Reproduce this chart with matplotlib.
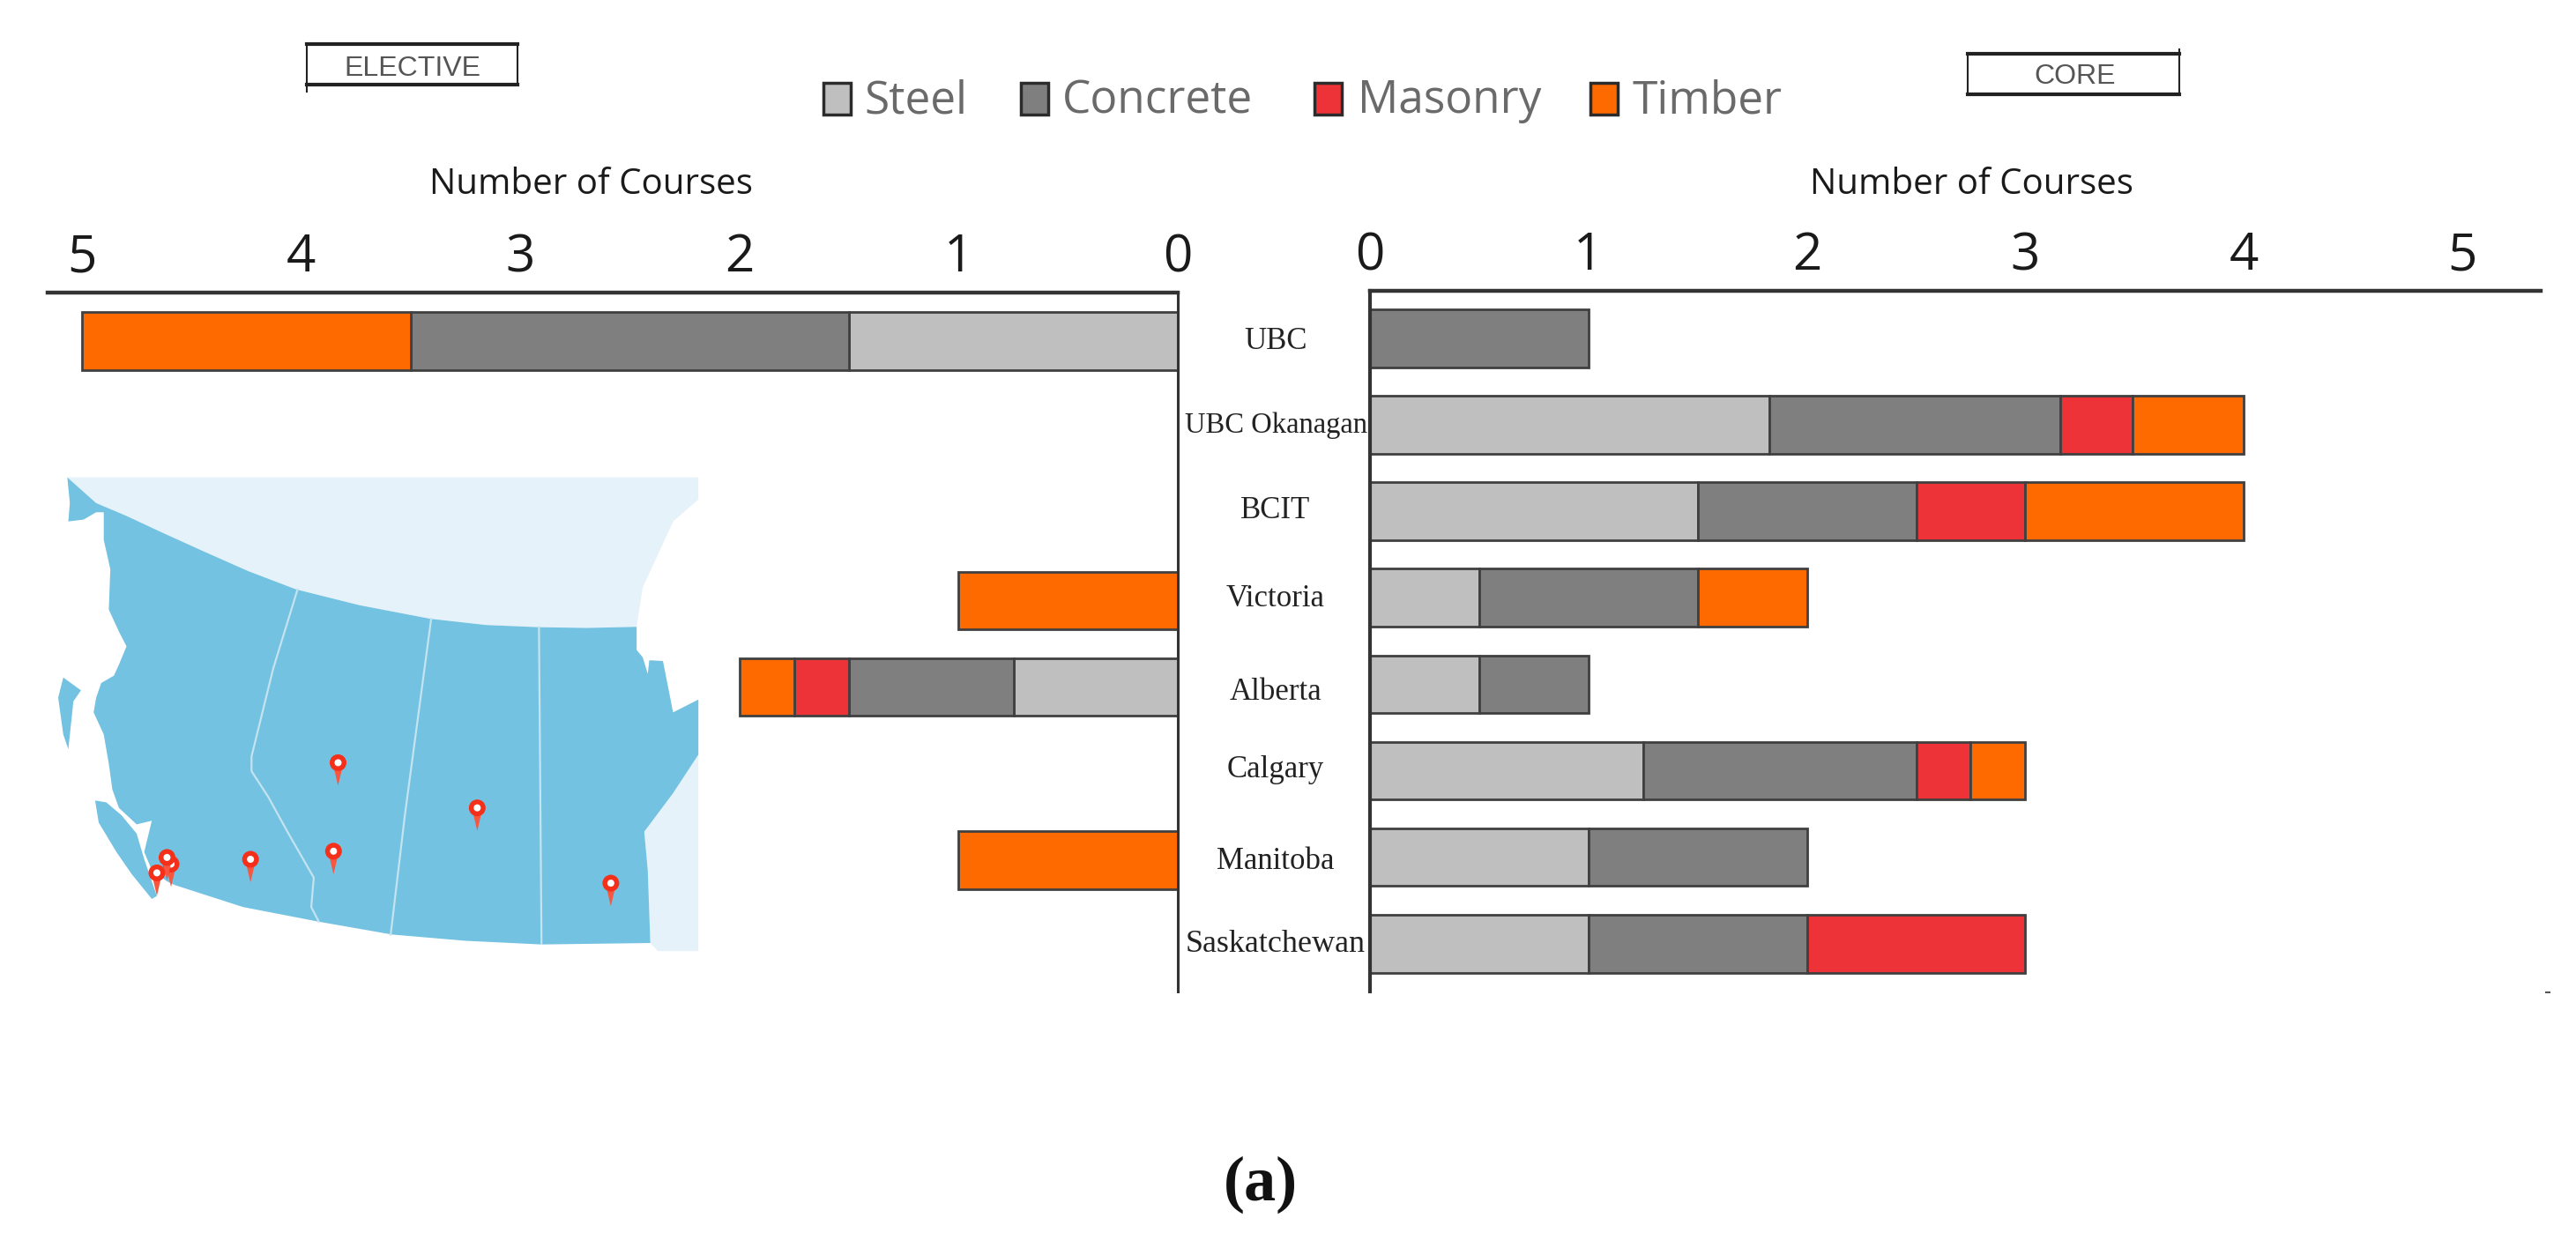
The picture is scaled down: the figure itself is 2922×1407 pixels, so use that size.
import matplotlib
matplotlib.use('Agg')
import matplotlib.pyplot as plt
import numpy as np
from matplotlib.patches import Polygon, Circle, Rectangle

W, H = 2922, 1407

# Course counts per university
universities = ['UBC', 'UBC Okanagan', 'BCIT', 'Victoria', 'Alberta', 'Calgary', 'Manitoba', 'Saskatchewan']
materials = ['Steel', 'Concrete', 'Masonry', 'Timber']

elective_steel = [1.5, 0, 0, 0, 0.75, 0, 0, 0]
elective_concrete = [2, 0, 0, 0, 0.75, 0, 0, 0]
elective_masonry = [0, 0, 0, 0, 0.25, 0, 0, 0]
elective_timber = [1.5, 0, 0, 1, 0.25, 0, 1, 0]

core_steel = [0, 1.83, 1.5, 0.5, 0.5, 1.25, 1, 1]
core_concrete = [1, 1.33, 1, 1, 0.5, 1.25, 1, 1]
core_masonry = [0, 0.33, 0.5, 0, 0, 0.25, 0, 1]
core_timber = [0, 0.51, 1, 0.5, 0, 0.25, 0, 0]

ticks = [0, 1, 2, 3, 4, 5]

colors = ['#BFBFBF', '#7F7F7F', '#EE3338', '#FF6A00']
edge = '#404040'

# Map outlines, measured on a crop of the inset (crop origin at 0,550)
north_curve = [(1258, 387), (1160, 390), (1065, 388), (960, 382), (850, 365), (710, 328), (585, 285), (490, 235),
               (400, 180), (320, 130), (250, 85), (190, 50)]
map_blue = [(133, -20), (138, 50), (135, 100), (165, 95), (190, 75), (205, 75), (205, 150), (218, 230), (215, 340),
            (235, 400), (250, 440), (235, 490), (225, 520), (200, 540), (190, 580), (185, 620), (205, 680), (215, 760),
            (222, 830), (235, 880), (270, 925), (300, 915), (285, 1000), (300, 1050), (330, 1080), (345, 1090),
            (480, 1150), (630, 1190), (775, 1225), (920, 1242), (1070, 1252), (1285, 1248), (1280, 1050), (1273, 945),
            (1330, 840), (1380, 735), (1380, 585), (1330, 620), (1310, 480), (1283, 478), (1280, 515), (1270, 470),
            (1258, 450)] + north_curve
map_haida = [(125, 525), (160, 560), (145, 590), (135, 720), (125, 680), (115, 580)]
map_van_island = [(188, 860), (210, 865), (240, 900), (270, 950), (285, 1020), (310, 1120), (300, 1128), (260, 1060),
                  (230, 1000), (195, 920)]
map_north = [(133, -20), (1380, -20), (1380, 40), (1330, 100), (1300, 190), (1270, 280)] + north_curve
map_hudson = [(1273, 945), (1330, 840), (1380, 735), (1380, 1270), (1300, 1270), (1285, 1248), (1280, 1050)]
border_bc_ab = [(588, 285), (540, 500), (497, 740), (497, 780), (530, 850), (570, 950), (620, 1070), (615, 1150), (630, 1190)]
border_ab_sk = [(852, 365), (800, 900), (772, 1225)]
border_sk_mb = [(1065, 388), (1070, 1250)]
pins = [(668, 757), (943, 880), (659, 998), (495, 1020), (338, 1033), (330, 1015), (310, 1057), (1207, 1085)]


def crop_xy(points):
    pts = np.array(points, dtype=float)
    return np.column_stack([pts[:, 0] / 1.742, 550 + pts[:, 1] / 2.4])


def axes_rect(x0, y0, x1, y1):
    return [x0 / W, 1 - y1 / H, (x1 - x0) / W, (y1 - y0) / H]


fig = plt.figure(figsize=(W / 100, H / 100), dpi=100, facecolor='white')

# Background layer in pixel coordinates: map, legend, boxes and loose text
bg = fig.add_axes([0, 0, 1, 1])
bg.set_xlim(0, W)
bg.set_ylim(H, 0)
bg.axis('off')

bg.add_patch(Polygon(crop_xy(map_north), closed=True, fc='#E5F2F9', ec='none'))
bg.add_patch(Polygon(crop_xy(map_hudson), closed=True, fc='#E5F2F9', ec='none'))
for shape in [map_blue, map_haida, map_van_island]:
    bg.add_patch(Polygon(crop_xy(shape), closed=True, fc='#74C2E1', ec='none'))
for line in [border_bc_ab, border_ab_sk, border_sk_mb]:
    xy = crop_xy(line)
    bg.plot(xy[:, 0], xy[:, 1], color='#C4E3F0', lw=1.6)

for px, py in crop_xy(pins):
    bg.add_patch(Polygon([(px - 5, py + 5), (px + 5, py + 5), (px, py + 26)], closed=True, fc='#F7563F', ec='none'))
    bg.add_patch(Circle((px, py), 9.5, fc='#F5301A', ec='none'))
    bg.add_patch(Circle((px, py), 4, fc='white', ec='none'))

# Legend
legend_swatch_x = [934, 1158, 1491, 1804]
legend_text_x = [980, 1205, 1540, 1852]
for name, col, sx, tx in zip(materials, colors, legend_swatch_x, legend_text_x):
    bg.add_patch(Rectangle((sx, 94), 31, 36, fc=col, ec='#2b2b2b', lw=2.5))
    bg.text(tx, 115, name, family='Open Sans', fontsize=37, color='#6a6a6a', va='center', ha='left')

# ELECTIVE and CORE boxes
bg.plot([348, 348], [50, 104], color='#222222', lw=1.5)
bg.plot([587, 587], [50, 96], color='#222222', lw=1.5)
bg.plot([348, 587], [50, 50], color='#222222', lw=3)
bg.plot([348, 587], [96, 96], color='#222222', lw=3)
bg.text(468, 78, 'ELECTIVE', family='Liberation Sans', fontsize=23, color='#555555', ha='center', va='center')

bg.plot([2232, 2232], [61, 107], color='#222222', lw=1.5)
bg.plot([2472, 2472], [56, 107], color='#222222', lw=1.5)
bg.plot([2232, 2472], [61, 61], color='#222222', lw=3)
bg.plot([2232, 2472], [107, 107], color='#222222', lw=3)
bg.text(2354, 87, 'CORE', family='Liberation Sans', fontsize=23, color='#555555', ha='center', va='center')

bg.text(670, 210, 'Number of Courses', family='Open Sans', fontsize=29, color='#1a1a1a', ha='center', va='center')
bg.text(2236, 210, 'Number of Courses', family='Open Sans', fontsize=29, color='#1a1a1a', ha='center', va='center')
bg.text(1430, 1344, '(a)', family='Liberation Serif', fontsize=52, fontweight='bold', color='#111111', ha='center', va='center')

bg.plot([2888, 2892], [1126, 1126], color='#555555', lw=1.5)

# University names sit between the two panels
label_y = [388, 483, 579, 679, 786, 874, 977, 1072]
label_size = [25, 23.5, 25, 25, 25, 25, 25, 26]
for name, y, size in zip(universities, label_y, label_size):
    bg.text(1447, y, name, family='Liberation Serif', fontsize=size, color='#222222', ha='center', va='center')

# Bar panels
ax_left = fig.add_axes(axes_rect(54, 332, 1336, 1125), facecolor='none')
ax_right = fig.add_axes(axes_rect(1554, 330, 2882, 1125), facecolor='none')

rows = np.arange(len(universities))
elective = [elective_steel, elective_concrete, elective_masonry, elective_timber]
core = [core_steel, core_concrete, core_masonry, core_timber]

for ax, series in [(ax_left, elective), (ax_right, core)]:
    base = np.zeros(len(universities))
    for values, col in zip(series, colors):
        values = np.array(values, dtype=float)
        ax.barh(rows[values > 0], values[values > 0], left=base[values > 0], height=0.67,
                color=col, edgecolor=edge, linewidth=2)
        base += values

    ax.xaxis.tick_top()
    ax.set_xticks(ticks)
    ax.set_xticklabels([str(t) for t in ticks], family='Open Sans', fontsize=42, color='#1a1a1a')
    ax.tick_params(axis='x', length=0, pad=7)
    ax.set_yticks([])
    for side in ['bottom', 'left', 'right']:
        ax.spines[side].set_visible(False)
    ax.spines['top'].set_linewidth(3.2)
    ax.spines['top'].set_color('#333333')

ax_left.set_xlim((1336 - 54) / 248.6, 0)
ax_left.set_ylim(7.52, -0.56)
ax_left.spines['right'].set_visible(True)
ax_left.spines['right'].set_linewidth(2.2)
ax_left.spines['right'].set_color('#333333')

ax_right.set_xlim(0, (2882 - 1554) / 247.8)
ax_right.set_ylim(7.553, -0.55)
ax_right.spines['left'].set_visible(True)
ax_right.spines['left'].set_linewidth(3)
ax_right.spines['left'].set_color('#333333')

fig.savefig('out.png', dpi=100)
